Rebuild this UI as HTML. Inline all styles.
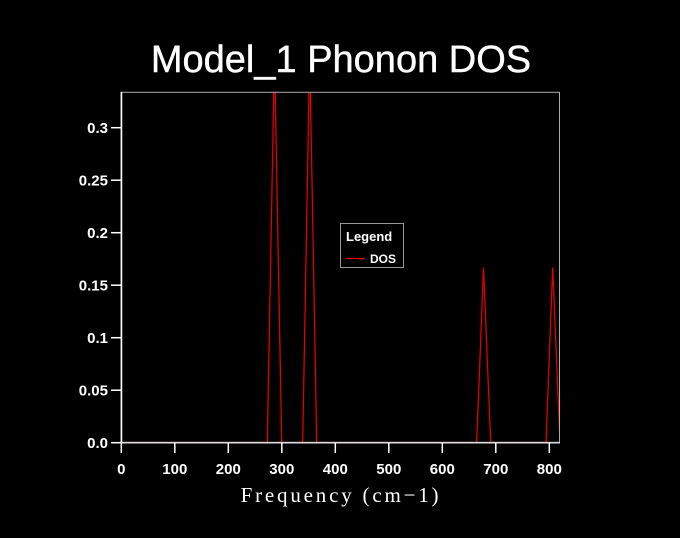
<!DOCTYPE html>
<html><head><style>
html,body{margin:0;padding:0;background:#000;}
svg{display:block;}
text{font-family:"Liberation Sans",sans-serif;fill:#fff;}
</style></head><body>
<svg width="680" height="538" viewBox="0 0 680 538">
<rect width="680" height="538" fill="#000"/>
<text x="341" y="72" font-size="38" text-anchor="middle" style="stroke:#fff;stroke-width:0.4">Model_1 Phonon DOS</text>
<defs><clipPath id="c"><rect x="121" y="92" width="439" height="351"/></clipPath></defs>
<g clip-path="url(#c)" fill="none" stroke="#e00000" stroke-width="1.3">
<polyline points="121,442.5 267.3,442.5 274.5,53 281.7,442.5 302.7,442.5 309.7,53 316.7,442.5 476.7,442.5 483.5,267.7 490.7,442.5 546,442.5 552.7,267.7 560,442.5"/>
</g>
<rect x="121" y="92.3" width="438.5" height="350" fill="none" stroke="#aaa" stroke-width="1"/>
<line x1="121.5" y1="92" x2="121.5" y2="443" stroke="#fff" stroke-width="1.5"/>
<line x1="121" y1="442.7" x2="560" y2="442.7" stroke="#ddd" stroke-width="1.5"/>
<g stroke="#fff" stroke-width="1.5">
<line x1="111" y1="442.7" x2="121" y2="442.7"/><line x1="111" y1="390.2" x2="121" y2="390.2"/>
<line x1="111" y1="337.7" x2="121" y2="337.7"/><line x1="111" y1="285.2" x2="121" y2="285.2"/>
<line x1="111" y1="232.7" x2="121" y2="232.7"/><line x1="111" y1="180.2" x2="121" y2="180.2"/>
<line x1="111" y1="127.7" x2="121" y2="127.7"/>
<line x1="121.3" y1="443" x2="121.3" y2="453"/><line x1="174.8" y1="443" x2="174.8" y2="453"/>
<line x1="228.3" y1="443" x2="228.3" y2="453"/><line x1="281.8" y1="443" x2="281.8" y2="453"/>
<line x1="335.3" y1="443" x2="335.3" y2="453"/><line x1="388.8" y1="443" x2="388.8" y2="453"/>
<line x1="442.3" y1="443" x2="442.3" y2="453"/><line x1="495.8" y1="443" x2="495.8" y2="453"/>
<line x1="549.3" y1="443" x2="549.3" y2="453"/>
</g>
<g font-size="15" text-anchor="end" font-weight="bold">
<text x="108" y="448">0.0</text><text x="108" y="395.5">0.05</text><text x="108" y="343">0.1</text>
<text x="108" y="290.5">0.15</text><text x="108" y="238">0.2</text><text x="108" y="185.5">0.25</text>
<text x="108" y="133">0.3</text>
</g>
<g font-size="15" text-anchor="middle" font-weight="bold">
<text x="121.3" y="474">0</text><text x="174.8" y="474">100</text><text x="228.3" y="474">200</text>
<text x="281.8" y="474">300</text><text x="335.3" y="474">400</text><text x="388.8" y="474">500</text>
<text x="442.3" y="474">600</text><text x="495.8" y="474">700</text><text x="549.3" y="474">800</text>
</g>
<text x="341" y="502" font-size="21" text-anchor="middle" letter-spacing="2.8" style="font-family:'Liberation Serif',serif">Frequency (cm−1)</text>
<rect x="340.5" y="223.5" width="63" height="44" fill="#000" stroke="#999" stroke-width="1"/>
<text x="346" y="241" font-size="13" font-weight="bold">Legend</text>
<line x1="346" y1="258.5" x2="365" y2="258.5" stroke="#e00000" stroke-width="1.3"/>
<text x="370" y="263" font-size="12" font-weight="bold">DOS</text>
</svg>
</body></html>
